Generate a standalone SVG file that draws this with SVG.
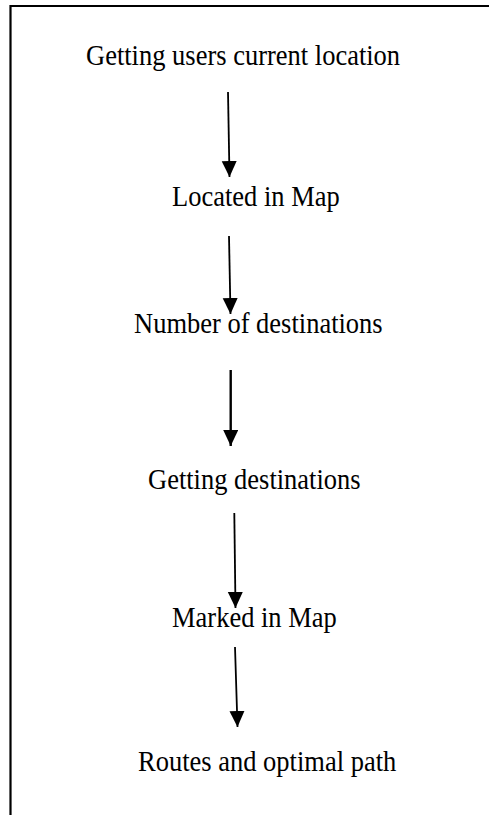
<svg xmlns="http://www.w3.org/2000/svg" width="489" height="815" viewBox="0 0 489 815">
<style>
.t{font-family:"Liberation Serif","Times New Roman",serif;font-size:26.5px;fill:#000}
.c{stroke:#000;stroke-width:1.8;fill:none}
.b{stroke:#000;stroke-width:2.2;fill:none}
</style>
<defs>
<marker id="ah" markerUnits="userSpaceOnUse" markerWidth="17" markerHeight="16" refX="16" refY="7.5" orient="auto">
<path d="M0,0 L16,7.5 L0,15 Z" fill="#000"/>
</marker>
</defs>
<rect width="489" height="815" fill="#fff"/>
<g id="frame">
<path class="b" d="M10.5,815 L10.5,6 L489,6"/>
</g>
<g id="n1" transform="translate(86,65) scale(1,1.12)"><text class="t" x="0" y="0">Getting users current location</text></g>
<g id="n2" transform="translate(172,206) scale(1,1.12)"><text class="t" x="0" y="0">Located in Map</text></g>
<g id="n3" transform="translate(134,333) scale(1,1.12)"><text class="t" x="0" y="0">Number of destinations</text></g>
<g id="n4" transform="translate(148,489) scale(1,1.12)"><text class="t" x="0" y="0">Getting destinations</text></g>
<g id="n5" transform="translate(172,627) scale(1,1.12)"><text class="t" x="0" y="0">Marked in Map</text></g>
<g id="n6" transform="translate(138,771) scale(1,1.12)"><text class="t" x="0" y="0">Routes and optimal path</text></g>
<g id="connectors">
<line class="c" x1="228" y1="92" x2="229.5" y2="177" marker-end="url(#ah)"/>
<line class="c" x1="229" y1="236" x2="230.5" y2="314" marker-end="url(#ah)"/>
<line class="c" x1="230.7" y1="370" x2="230.7" y2="446" marker-end="url(#ah)" style="stroke-width:2.4"/>
<line class="c" x1="234.3" y1="513" x2="235.5" y2="608" marker-end="url(#ah)"/>
<line class="c" x1="235" y1="647" x2="237.5" y2="727" marker-end="url(#ah)"/>
</g>
</svg>
